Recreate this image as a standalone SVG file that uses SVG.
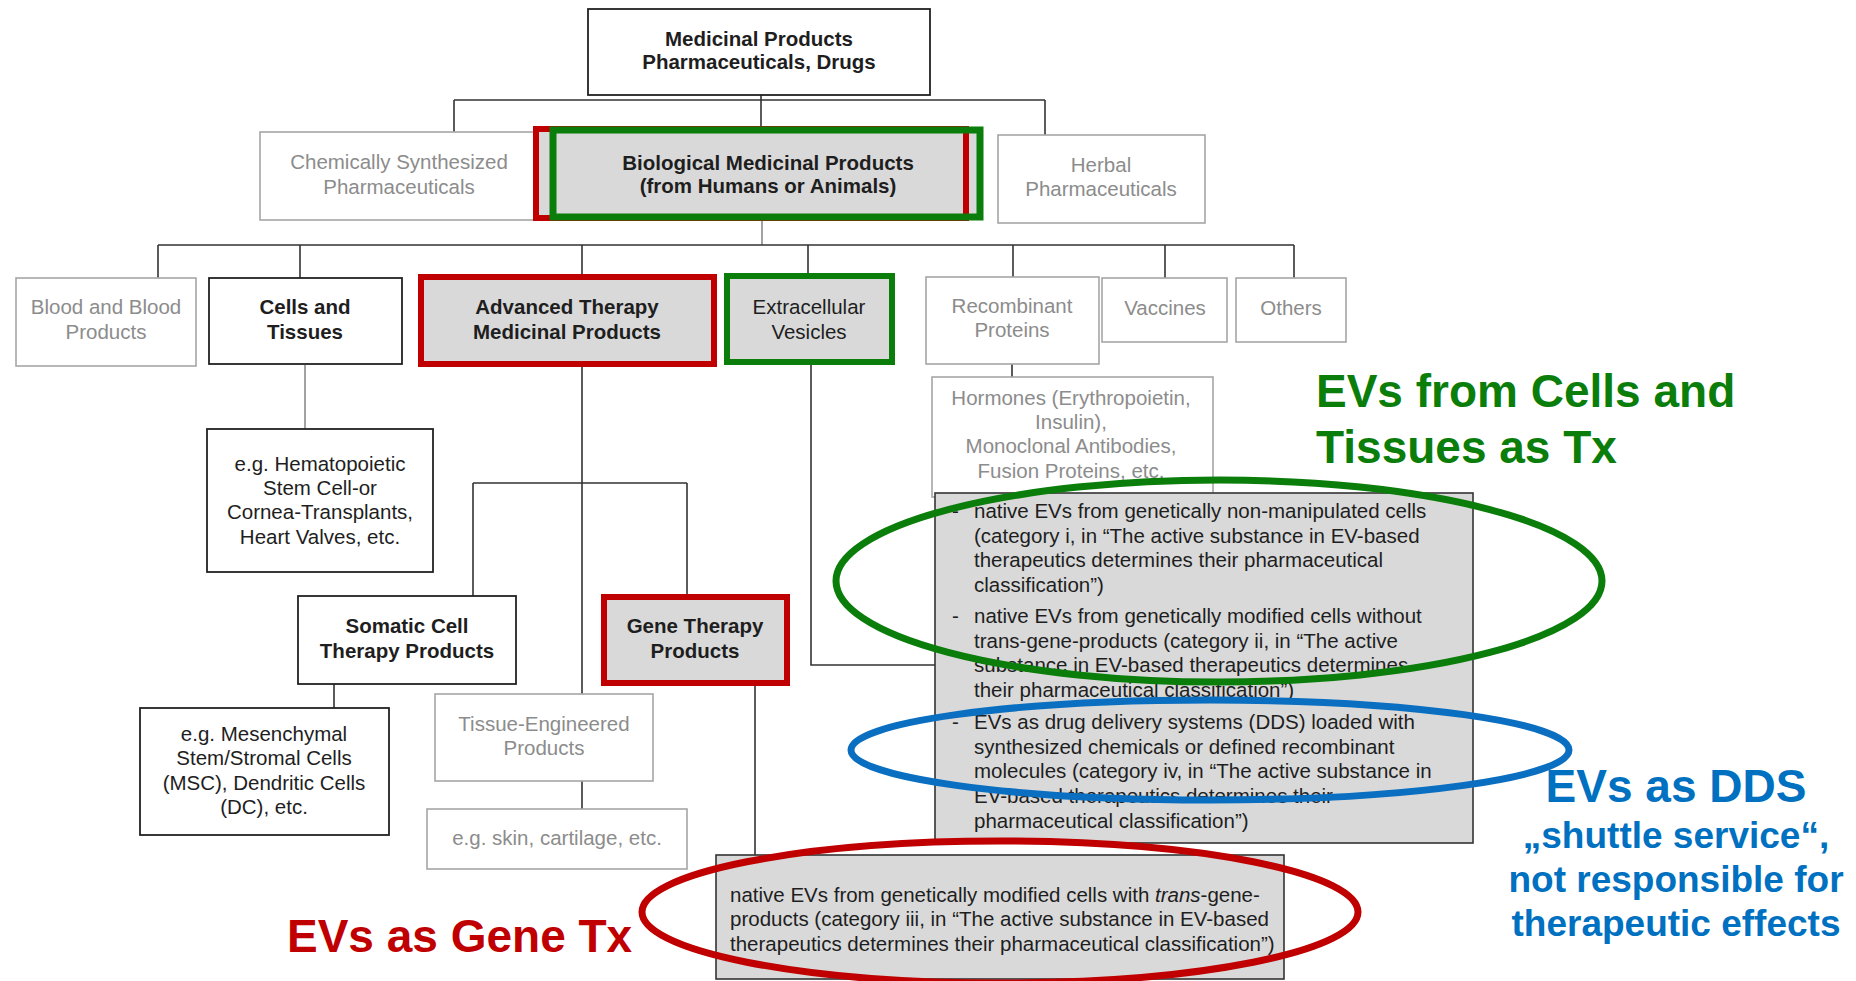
<svg xmlns="http://www.w3.org/2000/svg" width="1856" height="981" viewBox="0 0 1856 981">
<style>
text{font-family:"Liberation Sans",Arial,sans-serif;font-size:20.5px}
.c{text-anchor:middle}
.b{font-weight:bold}
.dk{fill:#1e1e1e}
.gt{fill:#8c8c8c}
.bx{fill:#fff;stroke:#222;stroke-width:1.8}
.gb{fill:#fff;stroke:#a6a6a6;stroke-width:1.6}
.fill{fill:#d9d9d9}
.rd{fill:none;stroke:#c00000;stroke-width:6}
.gr{fill:none;stroke:#0a7d0a;stroke-width:7}
.ln{fill:none;stroke:#333;stroke-width:1.6}
.lg{fill:none;stroke:#8c8c8c;stroke-width:1.6}
.hl{font-weight:bold;font-size:46px}
</style>
<rect width="1856" height="981" fill="#fff"/>
<g id="connectors">
<path class="ln" d="M761 95V128M454 100H1045M454 100V132M1045 100V135"/>
<path class="lg" d="M762 220V245"/>
<path class="ln" d="M158 245H1294M158 245V278M300 245V278M582 245V274M808 245V273M1013 245V277M1165 245V278M1294 245V278"/>
<path class="lg" d="M305 365V429"/>
<path class="ln" d="M582 367V694M473 483H687M473 483V596M687 483V594M334 684V708M582 781V809M755 686V855M811 365V665H935M1012 364V377"/>
</g>
<g id="n-medicinal">
<rect class="bx" x="588" y="9" width="342" height="86"/>
<text class="c b dk" x="759" y="46">Medicinal Products</text>
<text class="c b dk" x="759" y="69">Pharmaceuticals, Drugs</text>
</g>
<g id="n-chemical">
<rect class="gb" x="260" y="132" width="282" height="88"/>
<text class="c gt" x="399" y="169">Chemically Synthesized</text>
<text class="c gt" x="399" y="194">Pharmaceuticals</text>
</g>
<g id="n-biological">
<rect class="fill" x="536" y="128" width="444" height="90"/>
<rect class="rd" x="536" y="129" width="430" height="89"/>
<rect class="gr" x="553" y="130" width="427" height="87"/>
<text class="c b dk" x="768" y="170">Biological Medicinal Products</text>
<text class="c b dk" x="768" y="193">(from Humans or Animals)</text>
</g>
<g id="n-herbal">
<rect class="gb" x="998" y="135" width="207" height="88"/>
<text class="c gt" x="1101" y="172">Herbal</text>
<text class="c gt" x="1101" y="196">Pharmaceuticals</text>
</g>
<g id="n-blood">
<rect class="gb" x="16" y="278" width="180" height="88"/>
<text class="c gt" x="106" y="314">Blood and Blood</text>
<text class="c gt" x="106" y="339">Products</text>
</g>
<g id="n-cells">
<rect class="bx" x="209" y="278" width="193" height="86"/>
<text class="c b dk" x="305" y="314">Cells and</text>
<text class="c b dk" x="305" y="339">Tissues</text>
</g>
<g id="n-atmp">
<rect class="fill" x="421" y="277" width="293" height="87"/>
<rect class="rd" x="421" y="277" width="293" height="87"/>
<text class="c b dk" x="567" y="314">Advanced Therapy</text>
<text class="c b dk" x="567" y="339">Medicinal Products</text>
</g>
<g id="n-ev">
<rect class="fill" x="727" y="276" width="165" height="86"/>
<rect class="gr" x="727" y="276" width="165" height="86" style="stroke-width:6"/>
<text class="c dk" x="809" y="314">Extracellular</text>
<text class="c dk" x="809" y="339">Vesicles</text>
</g>
<g id="n-recombinant">
<rect class="gb" x="926" y="277" width="173" height="87"/>
<text class="c gt" x="1012" y="313">Recombinant</text>
<text class="c gt" x="1012" y="337">Proteins</text>
</g>
<g id="n-vaccines">
<rect class="gb" x="1102" y="278" width="125" height="64"/>
<text class="c gt" x="1165" y="315">Vaccines</text>
</g>
<g id="n-others">
<rect class="gb" x="1236" y="278" width="110" height="64"/>
<text class="c gt" x="1291" y="315">Others</text>
</g>
<g id="n-hormones">
<rect class="gb" x="932" y="377" width="281" height="120"/>
<text class="c gt" x="1071" y="405">Hormones (Erythropoietin,</text>
<text class="c gt" x="1071" y="429">Insulin),</text>
<text class="c gt" x="1071" y="453">Monoclonal Antibodies,</text>
<text class="c gt" x="1071" y="478">Fusion Proteins, etc.</text>
</g>
<g id="n-hematopoietic">
<rect class="bx" x="207" y="429" width="226" height="143"/>
<text class="c dk" x="320" y="471">e.g. Hematopoietic</text>
<text class="c dk" x="320" y="495">Stem Cell-or</text>
<text class="c dk" x="320" y="519">Cornea-Transplants,</text>
<text class="c dk" x="320" y="544">Heart Valves, etc.</text>
</g>
<g id="n-somatic">
<rect class="bx" x="298" y="596" width="218" height="88"/>
<text class="c b dk" x="407" y="633">Somatic Cell</text>
<text class="c b dk" x="407" y="658">Therapy Products</text>
</g>
<g id="n-gene">
<rect class="fill" x="604" y="597" width="183" height="86"/>
<rect class="rd" x="604" y="597" width="183" height="86"/>
<text class="c b dk" x="695" y="633">Gene Therapy</text>
<text class="c b dk" x="695" y="658">Products</text>
</g>
<g id="n-msc">
<rect class="bx" x="140" y="708" width="249" height="127"/>
<text class="c dk" x="264" y="741">e.g. Mesenchymal</text>
<text class="c dk" x="264" y="765">Stem/Stromal Cells</text>
<text class="c dk" x="264" y="790">(MSC), Dendritic Cells</text>
<text class="c dk" x="264" y="814">(DC), etc.</text>
</g>
<g id="n-tissue">
<rect class="gb" x="435" y="694" width="218" height="87"/>
<text class="c gt" x="544" y="731">Tissue-Engineered</text>
<text class="c gt" x="544" y="755">Products</text>
</g>
<g id="n-skin">
<rect class="gb" x="427" y="809" width="260" height="60"/>
<text class="c gt" x="557" y="845">e.g. skin, cartilage, etc.</text>
</g>
<g id="n-evlist">
<rect class="fill" x="935" y="493" width="538" height="350" style="stroke:#333;stroke-width:1.6"/>
<g class="dk">
<text x="952" y="518">-</text><text x="974" y="518">native EVs from genetically non-manipulated cells</text>
<text x="974" y="543">(category i, in “The active substance in EV-based</text>
<text x="974" y="567">therapeutics determines their pharmaceutical</text>
<text x="974" y="592">classification”)</text>
<text x="952" y="623">-</text><text x="974" y="623">native EVs from genetically modified cells without</text>
<text x="974" y="648">trans-gene-products (category ii, in “The active</text>
<text x="974" y="672">substance in EV-based therapeutics determines</text>
<text x="974" y="697">their pharmaceutical classification”)</text>
<text x="952" y="729">-</text><text x="974" y="729">EVs as drug delivery systems (DDS) loaded with</text>
<text x="974" y="754">synthesized chemicals or defined recombinant</text>
<text x="974" y="778">molecules (category iv, in “The active substance in</text>
<text x="974" y="803">EV-based therapeutics determines their</text>
<text x="974" y="828">pharmaceutical classification”)</text>
</g>
</g>
<g id="n-evgene">
<rect class="fill" x="716" y="855" width="568" height="124" style="stroke:#333;stroke-width:1.6"/>
<g class="dk">
<text x="730" y="902">native EVs from genetically modified cells with <tspan font-style="italic">trans</tspan>-gene-</text>
<text x="730" y="926">products (category iii, in “The active substance in EV-based</text>
<text x="730" y="951">therapeutics determines their pharmaceutical classification”)</text>
</g>
</g>
<g id="highlights">
<ellipse cx="1219" cy="581" rx="383" ry="101" fill="none" stroke="#0a7d0a" stroke-width="7"/>
<ellipse cx="1210" cy="750" rx="359" ry="50" fill="none" stroke="#0a6fc0" stroke-width="7"/>
<ellipse cx="1000" cy="912" rx="358" ry="71" fill="none" stroke="#c00000" stroke-width="7"/>
</g>
<g id="labels">
<text class="hl" x="1316" y="407" fill="#0a7d0a">EVs from Cells and</text>
<text class="hl" x="1316" y="463" fill="#0a7d0a">Tissues as Tx</text>
<text class="hl c" x="1676" y="802" fill="#0070c0">EVs as DDS</text>
<text class="c b" x="1676" y="848" fill="#0070c0" style="font-size:37px">„shuttle service“,</text>
<text class="c b" x="1676" y="892" fill="#0070c0" style="font-size:37px">not responsible for</text>
<text class="c b" x="1676" y="936" fill="#0070c0" style="font-size:37px">therapeutic effects</text>
<text class="hl" x="287" y="952" fill="#c00000">EVs as Gene Tx</text>
</g>
</svg>
